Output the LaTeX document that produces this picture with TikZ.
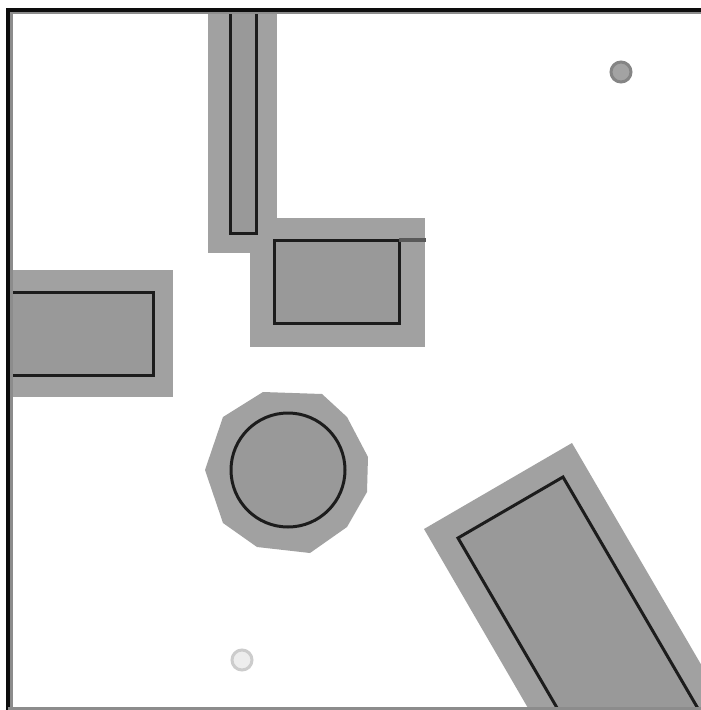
\documentclass[tikz,border=0pt]{standalone}
\usepackage{tikz}
\usepackage{xcolor}
\definecolor{inflgray}{RGB}{161, 161, 161}
\definecolor{obstgray}{RGB}{153, 153, 153}
\definecolor{edgeblack}{RGB}{28, 28, 28}
\usetikzlibrary{
    arrows.meta,
    calc,
    backgrounds
}
\tikzset{
    inflated/.style={fill=inflgray, draw=none},
    obstacle/.style={fill=obstgray, draw=edgeblack, line width=3pt, line join=miter},
    marker/.style={line width=3pt, draw=#1}
}

\begin{document}
\begin{tikzpicture}[x=1pt, y=-1pt]
        \useasboundingbox (0,0) rectangle (701,710);
        \fill[white] (0,0) rectangle (701,710);

        \begin{scope}
        \clip (8,9) rectangle (701,710);

        % inflation around the obstacles
        \fill[inflated] (208,0) rectangle (277,253);
        \fill[inflated] (250,218) rectangle (425,347);
        \fill[inflated] (0,270) rectangle (173,397);
        \fill[inflated] (263,392) -- (322,394) -- (347,417) -- (368,457) -- (367,492)
            -- (347,527) -- (310,553) -- (257,547) -- (223,523) -- (205,470) -- (223,417) -- cycle;
        \fill[inflated] (424,529) -- (572,443) -- (773,788) -- (625,875) -- cycle;

        % obstacles
        \draw[obstacle] (230,0) rectangle (256,233);
        \draw[obstacle] (274,240) rectangle (399,323);
        \draw[line width=4pt, black!65] (399,240) -- (426,240);
        \draw[obstacle] (0,292) rectangle (153,375);
        \draw[obstacle] (288,470) circle [radius=57];
        \draw[obstacle] (458,538) -- (563,477) -- (714,736) -- (609,797) -- cycle;

        % small markers
        \filldraw[marker=black!48, fill=black!36] (621,72) circle [radius=10];
        \filldraw[marker=black!20, fill=black!7] (242,660) circle [radius=10];
        \end{scope}

        % frame
        \draw[line width=3pt, black!45] (11.5,710) -- (11.5,12.5) -- (701,12.5);
        \draw[line width=4pt, black!95] (8,710) -- (8,9.5) -- (701,9.5);
        \draw[line width=3pt, black!45] (8,708.5) -- (701,708.5);
\end{tikzpicture}
\end{document}
